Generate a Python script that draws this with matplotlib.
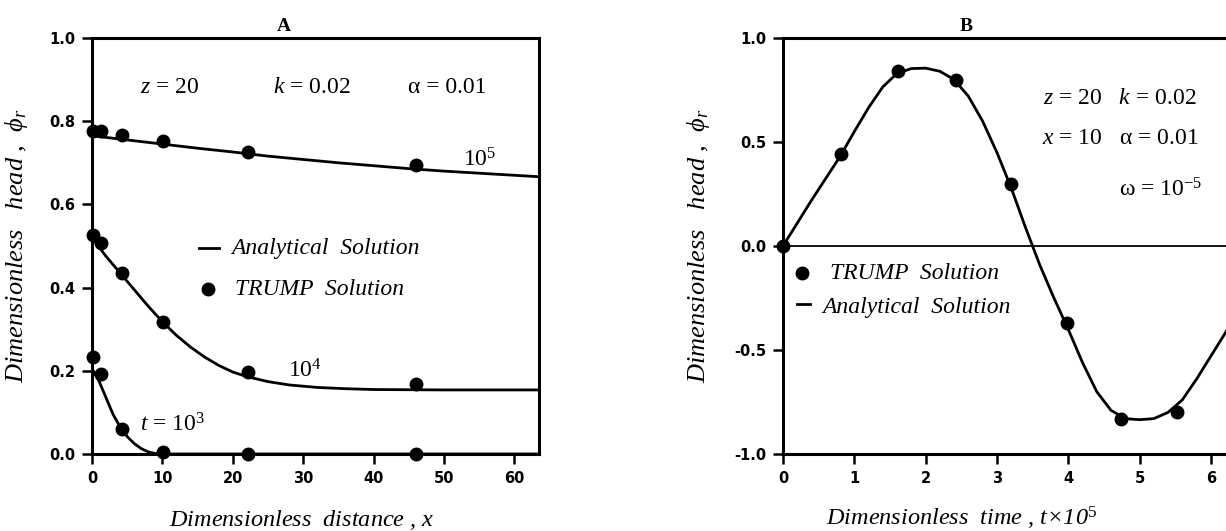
import numpy as np
from matplotlib import pyplot as plt

plt.rcParams['font.family'] = ['Liberation Serif', 'DejaVu Serif']
plt.rcParams['mathtext.fontset'] = 'custom'
plt.rcParams['mathtext.rm'] = 'Liberation Serif'
plt.rcParams['mathtext.it'] = 'Liberation Serif:italic'
plt.rcParams['mathtext.bf'] = 'Liberation Serif:bold'

# ---- panel A: head vs distance ----
a_pts_x = [0.2, 1.3, 4.2, 10.1, 22.1, 46.0]
a_pts_t5 = [0.777, 0.776, 0.767, 0.753, 0.727, 0.694]
a_pts_t4 = [0.527, 0.508, 0.434, 0.318, 0.198, 0.169]
a_pts_t3 = [0.234, 0.192, 0.061, 0.004, 0.0, 0.0]

a_x5 = [0, 5, 10, 15, 20, 25, 30, 35, 40, 45, 50, 55, 60, 64]
a_t5 = [0.765, 0.755, 0.745, 0.735, 0.726, 0.716, 0.708, 0.700, 0.693, 0.686, 0.680, 0.675, 0.670, 0.666]

a_x4 = [0, 2, 4, 6, 8, 10, 12, 14, 16, 18, 20, 22, 25, 28, 32, 36, 40, 50, 64]
a_t4 = [0.52, 0.475, 0.435, 0.395, 0.355, 0.318, 0.285, 0.257, 0.233, 0.213,
        0.197, 0.186, 0.174, 0.166, 0.160, 0.157, 0.155, 0.154, 0.154]

a_x3 = [0, 0.5, 1, 1.5, 2, 3, 4, 5, 6, 7, 8, 9, 10, 20, 40, 64]
a_t3 = [0.205, 0.19, 0.175, 0.155, 0.135, 0.095, 0.065, 0.042, 0.025, 0.013,
        0.005, 0.001, 0.0, 0.0, 0.0, 0.0]

# ---- panel B: head vs time ----
b_pts_t = [0.0, 0.82, 1.61, 2.42, 3.20, 3.98, 4.74, 5.52]
b_pts_h = [0.0, 0.44, 0.84, 0.80, 0.30, -0.37, -0.83, -0.80]

b_t = [0, 0.4, 0.8, 1.0, 1.2, 1.4, 1.6, 1.8, 2.0, 2.2, 2.4, 2.6, 2.8, 3.0, 3.2,
       3.4, 3.5, 3.6, 3.8, 4.0, 4.2, 4.4, 4.6, 4.8, 5.0, 5.2, 5.4, 5.6, 5.8,
       6.0, 6.2, 6.4, 6.6]
b_h = [0, 0.22, 0.43, 0.55, 0.665, 0.765, 0.83, 0.853, 0.855, 0.84, 0.80,
       0.72, 0.60, 0.45, 0.28, 0.09, 0.0, -0.09, -0.25, -0.40, -0.56, -0.70,
       -0.79, -0.83, -0.835, -0.83, -0.80, -0.74, -0.64, -0.53, -0.42, -0.30, -0.18]

tick_font = {'family': 'DejaVu Sans', 'weight': 'bold', 'size': 10.5}
xlabel_font = {'style': 'italic', 'size': 17.5}
ylabel_font = {'style': 'italic', 'size': 19}
note_size = 17

fig = plt.figure(figsize=(12.26, 5.31), dpi=100)
W, H = 1226, 531


def style_axes(ax):
    for s in ax.spines.values():
        s.set_linewidth(2.2)
    ax.tick_params(direction='out', length=7, width=1.8, pad=5)
    for lab in ax.get_xticklabels() + ax.get_yticklabels():
        lab.set_fontfamily(tick_font['family'])
        lab.set_fontweight(tick_font['weight'])
        lab.set_fontsize(tick_font['size'])


# panel A
axA = fig.add_axes([92 / W, 1 - 454 / H, 447 / W, 416 / H])
axA.plot(a_x5, a_t5, color='black', lw=2)
axA.plot(a_x4, a_t4, color='black', lw=2)
axA.plot(a_x3, a_t3, color='black', lw=2)
for ys in (a_pts_t5, a_pts_t4, a_pts_t3):
    axA.plot(a_pts_x, ys, 'o', color='black', ms=9, clip_on=False)
axA.set_xlim(0, 63.5)
axA.set_ylim(0, 1.0)
axA.set_xticks([0, 10, 20, 30, 40, 50, 60])
axA.set_yticks([0.0, 0.2, 0.4, 0.6, 0.8, 1.0])
axA.set_yticklabels(['0.0', '0.2', '0.4', '0.6', '0.8', '1.0'])
style_axes(axA)
axA.set_title('A', fontweight='bold', fontsize=14, pad=5, x=0.43)
axA.set_xlabel('Dimensionless  distance , $x$', fontdict=xlabel_font, labelpad=16, x=0.47)
axA.set_ylabel(r'Dimensionless   head ,  $\phi_r$', fontdict=ylabel_font, labelpad=14)

axA.text(11.1, 0.882, '$z$ = 20', fontsize=note_size, ha='center', va='center')
axA.text(31.2, 0.882, '$k$ = 0.02', fontsize=note_size, ha='center', va='center')
axA.text(50.4, 0.882, 'α = 0.01', fontsize=note_size, ha='center', va='center')
axA.text(55.0, 0.708, '10$^5$', fontsize=note_size, ha='center', va='center')
axA.text(30.3, 0.2, '10$^4$', fontsize=note_size, ha='center', va='center')
axA.text(11.5, 0.07, '$t$ = 10$^3$', fontsize=note_size, ha='center', va='center')
axA.plot([15.2, 18.0], [0.494, 0.494], color='black', lw=2)
axA.text(19.8, 0.494, 'Analytical  Solution', fontsize=note_size, style='italic', va='center')
axA.plot([16.5], [0.396], 'o', color='black', ms=9)
axA.text(20.3, 0.396, 'TRUMP  Solution', fontsize=note_size, style='italic', va='center')

# panel B
axB = fig.add_axes([783 / W, 1 - 454 / H, 6.6 * 71.3 / W, 416 / H])
axB.axhline(0, color='black', lw=1.3)
axB.plot(b_t, b_h, color='black', lw=2)
axB.plot(b_pts_t, b_pts_h, 'o', color='black', ms=9, clip_on=False)
axB.set_xlim(0, 6.6)
axB.set_ylim(-1.0, 1.0)
axB.set_xticks([0, 1, 2, 3, 4, 5, 6])
axB.set_yticks([-1.0, -0.5, 0.0, 0.5, 1.0])
axB.set_yticklabels(['-1.0', '-0.5', '0.0', '0.5', '1.0'])
style_axes(axB)
axB.set_title('B', fontweight='bold', fontsize=14, pad=5, x=0.39)
axB.set_xlabel('Dimensionless  time , $t$×10$^5$', fontdict=xlabel_font, labelpad=14, x=0.38)
axB.set_ylabel(r'Dimensionless   head ,  $\phi_r$', fontdict=ylabel_font, labelpad=16)

axB.text(4.73, 0.71, '$z$ = 20   $k$ = 0.02', fontsize=note_size, ha='center', va='center')
axB.text(4.73, 0.515, '$x$ = 10   α = 0.01', fontsize=note_size, ha='center', va='center')
axB.text(5.3, 0.27, 'ω = 10$^{-5}$', fontsize=note_size, ha='center', va='center')
axB.plot([0.27], [-0.13], 'o', color='black', ms=9)
axB.text(0.66, -0.13, 'TRUMP  Solution', fontsize=note_size, style='italic', va='center')
axB.plot([0.2, 0.38], [-0.28, -0.28], color='black', lw=2)
axB.text(0.55, -0.295, 'Analytical  Solution', fontsize=note_size, style='italic', va='center')

fig.savefig('out.png', dpi=100)
